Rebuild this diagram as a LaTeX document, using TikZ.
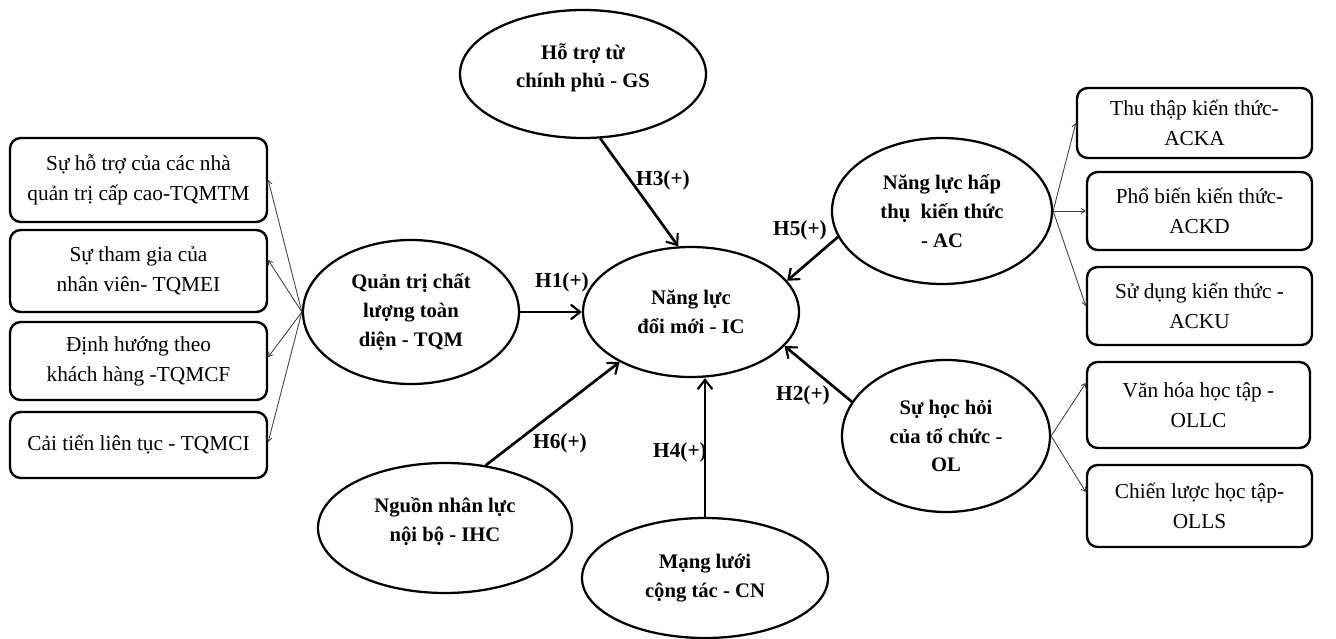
\documentclass[tikz,border=0pt]{standalone}
\usepackage{fontspec}
\setmainfont{Liberation Serif}
\usetikzlibrary{shapes.geometric,arrows.meta,calc}

\begin{document}
\begin{tikzpicture}[x=0.75pt,y=-0.75pt,
  construct/.style={ellipse,draw,line width=1.7pt,inner sep=0pt,align=center,
    font=\fontsize{15.5}{21.5}\selectfont\bfseries},
  itembox/.style={rectangle,rounded corners=8pt,draw,line width=1.8pt,align=center,
    inner sep=0pt,font=\fontsize{16}{22.5}\selectfont},
  hyp/.style={line width=2pt,-{Straight Barb[length=7pt,width=11pt,line width=1.6pt]}},
  ind/.style={draw=black!75,line width=0.65pt,-{Straight Barb[length=3pt,width=4pt,line width=0.65pt]}},
  hlabel/.style={font=\fontsize{16}{18}\selectfont\bfseries,inner sep=0pt}]
\useasboundingbox (0,0) rectangle (1336,639);

% constructs
\node[construct,minimum width=184.5pt,minimum height=96pt] (gs) at (583,74) {Hỗ trợ từ\\chính phủ - GS\\[-9pt]\mbox{}};
\node[construct,minimum width=162pt,minimum height=97.5pt] (ic) at (691,312) {Năng lực\\đổi mới - IC};
\node[construct,minimum width=162pt,minimum height=108pt] (tqm) at (411,312) {Quản trị chất\\lượng toàn\\diện - TQM};
\node[construct,minimum width=165pt,minimum height=109.5pt] (ac) at (942,211) {Năng lực hấp\\thụ\ \ kiến thức\\- AC};
\node[construct,minimum width=156pt,minimum height=114pt] (ol) at (946,436) {Sự học hỏi\\của tổ chức -\\OL};
\node[construct,minimum width=190.5pt,minimum height=97.5pt] (ihc) at (445,528) {Nguồn nhân lực\\nội bộ - IHC\\[-9pt]\mbox{}};
\node[construct,minimum width=184.5pt,minimum height=90pt] (cn) at (705,578) {Mạng lưới\\cộng tác - CN};

% TQM indicators
\node[itembox,minimum width=192.75pt,minimum height=63pt] (tm) at (138.5,180) {Sự hỗ trợ của các nhà\\quản trị cấp cao-TQMTM};
\node[itembox,minimum width=192.75pt,minimum height=61.5pt] (ei) at (138.5,271) {Sự tham gia của\\nhân viên- TQMEI};
\node[itembox,minimum width=192.75pt,minimum height=58.5pt] (cf) at (138.5,361) {Định hướng theo\\khách hàng -TQMCF};
\node[itembox,minimum width=192.75pt,minimum height=49.5pt] (ci) at (138.5,445) {Cải tiến liên tục - TQMCI};

% AC and OL indicators
\node[itembox,minimum width=176.25pt,minimum height=52.5pt] (ka) at (1194.5,123) {Thu thập kiến thức-\\ACKA};
\node[itembox,minimum width=168.75pt,minimum height=58.5pt] (kd) at (1199.5,211) {Phổ biến kiến thức-\\ACKD};
\node[itembox,minimum width=168.75pt,minimum height=58.5pt] (ku) at (1199.5,306) {Sử dụng kiến thức -\\ACKU};
\node[itembox,minimum width=167.25pt,minimum height=64.5pt] (lc) at (1198.5,405) {Văn hóa học tập -\\OLLC};
\node[itembox,minimum width=168.75pt,minimum height=61.5pt] (ls) at (1199.5,506) {Chiến lược học tập-\\OLLS};

% indicator links
\draw[ind] (tqm.west) -- (tm.east);
\draw[ind] (tqm.west) -- ($(ei.east)+(0,-11)$);
\draw[ind] (tqm.west) -- ($(cf.east)+(0,-4)$);
\draw[ind] (tqm.west) -- ($(ci.east)+(0,-3)$);
\draw[ind] (ac.east) -- (ka.west);
\draw[ind] (ac.east) -- (kd.west);
\draw[ind] (ac.east) -- (ku.west);
\draw[ind] (ol.east) -- ($(lc.west)+(0,-22)$);
\draw[ind] (ol.east) -- ($(ls.west)+(0,-14)$);

% hypotheses
\draw[hyp] (tqm.east) -- (ic.west);
\draw[hyp] (gs.-75) -- (ic.101);
\draw[hyp] (ac.194) -- (ic.18);
\draw[hyp] (ol.160) -- (ic.340);
\draw[hyp] (cn.north) -- (ic.south -| cn.north);
\draw[hyp] (ihc.57) -- (ic.215);

\node[hlabel] (h1) at (562,282) {H1(+)};
\node[hlabel] (h3) at (663,180) {H3(+)};
\node[hlabel] (h5) at (800,230) {H5(+)};
\node[hlabel] (h2) at (803,395) {H2(+)};
\node[hlabel] (h4) at (680,452) {H4(+)};
\node[hlabel] (h6) at (560,443) {H6(+)};
\end{tikzpicture}
\end{document}
